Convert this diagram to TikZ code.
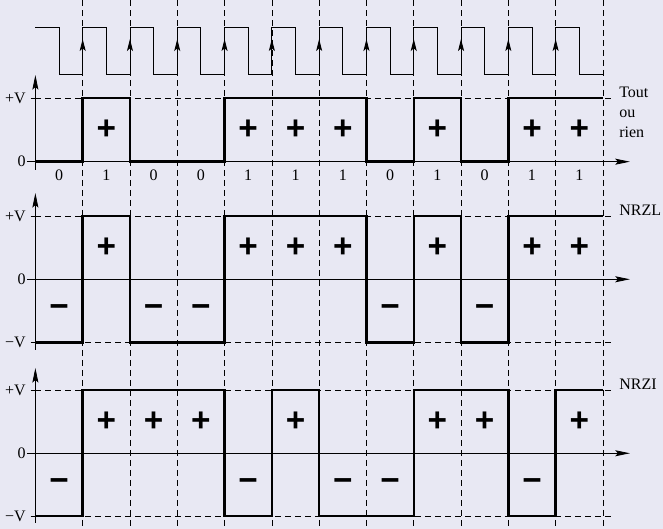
\documentclass[tikz,border=0pt]{standalone}
\usepackage{fontspec}
\setmainfont{Liberation Serif}
\newfontfamily\signfont{Liberation Sans}
\usetikzlibrary{arrows.meta}
\definecolor{fond}{RGB}{232,232,243}

\begin{document}
\begin{tikzpicture}[x=35.475pt, y=-0.75pt,   % x: un bit, y: pixels vers le bas
    >={Stealth[length=11pt,width=4.5pt,inset=2pt]},
    font=\fontsize{12}{14}\selectfont,
    grille/.style={dash pattern=on 4.5pt off 3pt, line width=0.5pt},
    axe/.style={->, line width=0.6pt},
    horloge/.style={line width=0.7pt},
    front/.style={-{Stealth[length=9pt,width=4.5pt,inset=2pt]}, line width=0.7pt},
    signal/.style={line width=1.8pt},
    signe/.style={font=\signfont\bfseries\fontsize{25}{25}\selectfont, inner sep=0pt},
    niveau/.style={left, inner sep=1pt}]
    % Fond
    \path[use as bounding box, fill=fond] (-0.748,0) rectangle (13.27,529);
    % Limites des bits
    \foreach \k in {1,...,12} \draw[grille] (\k,0) -- (\k,529);
    % Niveaux +V et -V
    \foreach \y in {98,216,342.7,390,516} {
        \draw[grille] (0,\y) -- (12.2,\y);
        \draw[line width=0.5pt] (-0.1,\y) -- (0,\y);
    }
    % Axes
    \draw[axe] (0,170) -- (0,75);
    \draw[axe] (-0.178,161.7) -- (12.57,161.7);
    \draw[axe] (0,350) -- (0,193);
    \draw[axe] (-0.178,279.3) -- (12.57,279.3);
    \draw[axe] (0,523) -- (0,368);
    \draw[axe] (-0.178,453.3) -- (12.57,453.3);
    % Horloge
    \foreach \k in {0,...,11}
        \draw[horloge] (\k,27) -- (\k+.5,27) -- (\k+.5,74) -- (\k+1,74);
    \foreach \k in {1,...,11} {
        \draw[horloge] (\k,74) -- (\k,27);
        \draw[front] (\k,74) -- (\k,39);
    }
    % Tout ou rien
    \draw[signal] (0,161.7) -| (1,98) -| (2,161.7) -| (4,98) -| (7,161.7) -| (8,98)
        -| (9,161.7) -| (10,98) -- (12,98);
    % NRZL
    \draw[signal] (0,342.7) -| (1,216) -| (2,342.7) -| (4,216) -| (7,342.7) -| (8,216)
        -| (9,342.7) -| (10,216) -- (12,216);
    % NRZI
    \draw[signal] (0,516) -| (1,390) -| (4,516) -| (5,390) -| (6,516) -| (8,390)
        -| (10,516) -| (11,390) -- (12,390);
    % Bits
    \foreach \b [count=\i from 0] in {0,1,0,0,1,1,1,0,1,0,1,1}
        \node (bit\i) at (\i+.5,175.7) {\b};
    % Signes
    \foreach \k in {1,4,5,6,8,10,11} {
        \node[signe] (tplus\k) at (\k+.5,129.85) {+};
        \node[signe] (lplus\k) at (\k+.5,247.7) {+};
    }
    \foreach \k in {0,2,3,7,9} \node[signe] (lmoins\k) at (\k+.5,311) {−};
    \foreach \k in {1,2,3,5,8,9,11} \node[signe] (iplus\k) at (\k+.5,422) {+};
    \foreach \k in {0,4,6,7,10} \node[signe] (imoins\k) at (\k+.5,485) {−};
    % Niveaux a gauche
    \node[niveau] (tv) at (-0.17,98) {+V};
    \node[niveau] (t0) at (-0.17,161.7) {0};
    \node[niveau] (lv) at (-0.17,216) {+V};
    \node[niveau] (l0) at (-0.17,279.3) {0};
    \node[niveau] (lmv) at (-0.17,342.7) {−V};
    \node[niveau] (iv) at (-0.17,390) {+V};
    \node[niveau] (i0) at (-0.17,453.3) {0};
    \node[niveau] (imv) at (-0.17,516) {−V};
    % Noms des codes
    \node[anchor=base west, inner sep=0pt] (tout) at (12.34,98) {Tout};
    \node[anchor=base west, inner sep=0pt] (ou) at (12.34,118) {ou};
    \node[anchor=base west, inner sep=0pt] (rien) at (12.34,138) {rien};
    \node[anchor=base west, inner sep=0pt] (nrzl) at (12.34,216) {NRZL};
    \node[anchor=base west, inner sep=0pt] (nrzi) at (12.34,390) {NRZI};
\end{tikzpicture}
\end{document}
